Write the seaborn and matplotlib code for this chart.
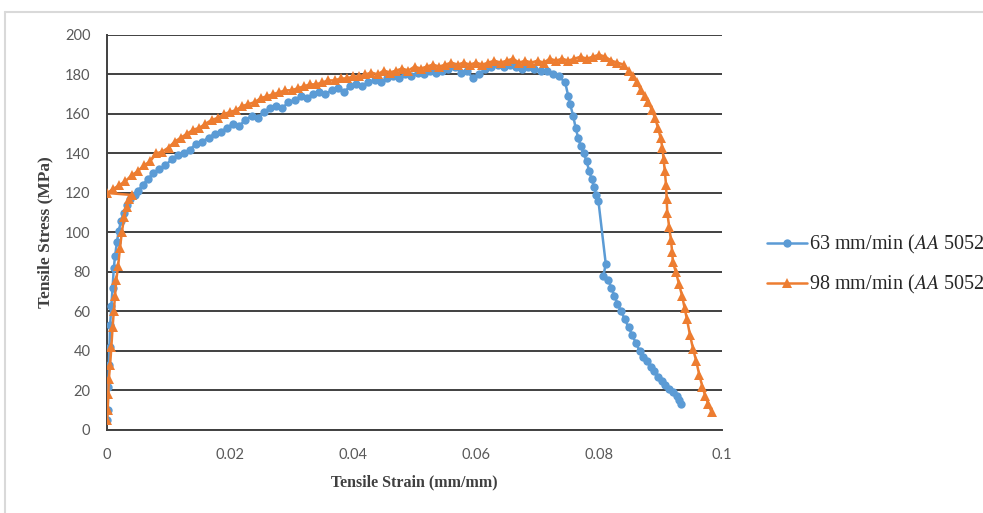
import matplotlib
matplotlib.use("Agg")
import matplotlib.pyplot as plt
import seaborn as sns
import pandas as pd
from matplotlib.lines import Line2D

# 63 mm/min (AA 5052) - strain, stress
strain_63 = [0.0000, 0.0001, 0.0002, 0.0003, 0.0004, 0.0005, 0.0007, 0.0009, 0.0011, 0.0013,
             0.0016, 0.0019, 0.0023, 0.0027, 0.0032, 0.0038, 0.0045, 0.0050, 0.0058, 0.0066,
             0.0075, 0.0085, 0.0095, 0.0105, 0.0115, 0.0125, 0.0135, 0.0145, 0.0155, 0.0165,
             0.0175, 0.0185, 0.0195, 0.0205, 0.0215, 0.0225, 0.0235, 0.0245, 0.0255, 0.0265,
             0.0275, 0.0285, 0.0295, 0.0305, 0.0315, 0.0325, 0.0335, 0.0345, 0.0355, 0.0365,
             0.0375, 0.0385, 0.0395, 0.0405, 0.0415, 0.0425, 0.0435, 0.0445, 0.0455, 0.0465,
             0.0475, 0.0485, 0.0495, 0.0505, 0.0515, 0.0525, 0.0535, 0.0545, 0.0555, 0.0565,
             0.0575, 0.0585, 0.0595, 0.0605, 0.0615, 0.0625, 0.0635, 0.0645, 0.0655, 0.0665,
             0.0675, 0.0685, 0.0695, 0.0705, 0.0715, 0.0725, 0.0735, 0.0745, 0.0750, 0.0753,
             0.0758, 0.0762, 0.0766, 0.0770, 0.0775, 0.0780, 0.0784, 0.0788, 0.0792, 0.0795,
             0.0799, 0.0811, 0.0807, 0.0815, 0.0820, 0.0825, 0.0830, 0.0836, 0.0842, 0.0848,
             0.0854, 0.0860, 0.0866, 0.0872, 0.0878, 0.0884, 0.0890, 0.0896, 0.0902, 0.0908,
             0.0914, 0.0920, 0.0926, 0.0930, 0.0934]
stress_63 = [5, 10, 22, 33, 42, 53, 63, 72, 82, 88,
             95, 101, 106, 110, 114, 117, 119, 121, 124, 127,
             130, 132, 134, 137, 139, 140, 142, 145, 146, 148,
             150, 151, 153, 155, 154, 157, 159, 158, 161, 163,
             164, 163, 166, 167, 169, 168, 170, 171, 170, 172,
             173, 171, 174, 175, 174, 176, 177, 176, 178, 179,
             178, 180, 179, 181, 180, 182, 181, 182, 183, 184,
             181, 182, 178, 180, 183, 184, 185, 184, 185, 184,
             183, 184, 183, 182, 182, 180, 179, 176, 169, 165,
             159, 153, 148, 144, 140, 136, 131, 127, 123, 119,
             116, 84, 78, 76, 72, 68, 64, 60, 56, 52,
             48, 44, 40, 37, 35, 32, 30, 27, 25, 23,
             21, 19, 17, 15, 13]

# 98 mm/min (AA 5052) - strain, stress
strain_98 = [0.0000, 0.0001, 0.0002, 0.0003, 0.0005, 0.0007, 0.0009, 0.0011, 0.0013, 0.0015,
             0.0018, 0.0021, 0.0024, 0.0028, 0.0032, 0.0036, 0.0040, 0.0000, 0.0010, 0.0020,
             0.0030, 0.0040, 0.0050, 0.0060, 0.0070, 0.0080, 0.0090, 0.0100, 0.0110, 0.0120,
             0.0130, 0.0140, 0.0150, 0.0160, 0.0170, 0.0180, 0.0190, 0.0200, 0.0210, 0.0220,
             0.0230, 0.0240, 0.0250, 0.0260, 0.0270, 0.0280, 0.0290, 0.0300, 0.0310, 0.0320,
             0.0330, 0.0340, 0.0350, 0.0360, 0.0370, 0.0380, 0.0390, 0.0400, 0.0410, 0.0420,
             0.0430, 0.0440, 0.0450, 0.0460, 0.0470, 0.0480, 0.0490, 0.0500, 0.0510, 0.0520,
             0.0530, 0.0540, 0.0550, 0.0560, 0.0570, 0.0580, 0.0590, 0.0600, 0.0610, 0.0620,
             0.0630, 0.0640, 0.0650, 0.0660, 0.0670, 0.0680, 0.0690, 0.0700, 0.0710, 0.0720,
             0.0730, 0.0740, 0.0750, 0.0760, 0.0770, 0.0780, 0.0790, 0.0800, 0.0810, 0.0820,
             0.0830, 0.0840, 0.0848, 0.0855, 0.0862, 0.0868, 0.0874, 0.0880, 0.0886, 0.0891,
             0.0896, 0.0900, 0.0903, 0.0905, 0.0907, 0.0909, 0.0910, 0.0911, 0.0914, 0.0917,
             0.0919, 0.0920, 0.0925, 0.0930, 0.0935, 0.0939, 0.0943, 0.0948, 0.0953, 0.0958,
             0.0963, 0.0968, 0.0973, 0.0978, 0.0983]
stress_98 = [5, 10, 18, 26, 33, 42, 52, 60, 68, 76,
             83, 92, 100, 108, 113, 117, 119, 120, 122, 124,
             126, 129, 131, 134, 136, 140, 141, 143, 146, 148,
             150, 152, 153, 155, 157, 158, 160, 161, 162, 164,
             165, 166, 168, 169, 170, 171, 172, 172, 173, 174,
             175, 175, 176, 177, 177, 178, 178, 179, 179, 180,
             181, 180, 182, 181, 182, 183, 182, 184, 183, 184,
             185, 184, 185, 186, 185, 186, 185, 186, 185, 186,
             187, 186, 187, 188, 186, 187, 186, 187, 186, 188,
             187, 188, 187, 188, 189, 188, 189, 190, 189, 187,
             186, 185, 182, 179, 176, 172, 169, 166, 162, 158,
             153, 148, 143, 137, 131, 124, 117, 110, 103, 96,
             90, 85, 80, 74, 68, 62, 56, 48, 41, 35,
             28, 22, 17, 13, 9]

labels = ["63 mm/min ($\\mathit{AA}$ 5052)", "98 mm/min ($\\mathit{AA}$ 5052)"]
x_ticks = [0, 0.02, 0.04, 0.06, 0.08, 0.1]
x_tick_labels = ["0", "0.02", "0.04", "0.06", "0.08", "0.1"]
y_ticks = list(range(0, 201, 20))

sns.set_style("white")
plt.rcParams["mathtext.fontset"] = "stix"

df63 = pd.DataFrame({"strain": strain_63, "stress": stress_63})
df98 = pd.DataFrame({"strain": strain_98, "stress": stress_98})

fig = plt.figure(figsize=(9.83, 5.13), dpi=100)
ax = fig.add_axes([0.1089, 0.1618, 0.6256, 0.77])

sns.lineplot(data=df63, x="strain", y="stress", sort=False, estimator=None, ax=ax,
             color="#5B9BD5", lw=1.8, marker="o", markersize=6, markeredgewidth=0,
             label=labels[0], zorder=3)
sns.lineplot(data=df98, x="strain", y="stress", sort=False, estimator=None, ax=ax,
             color="#ED7D31", lw=1.8, marker="^", markersize=6.5, markeredgewidth=0,
             label=labels[1], zorder=4)

ax.set_xlim(0, 0.1)
ax.set_ylim(0, 200)
ax.set_xticks(x_ticks)
ax.set_xticklabels(x_tick_labels)
ax.set_yticks(y_ticks)
ax.yaxis.grid(True, color="#404040", lw=1.4)
ax.xaxis.grid(False)
ax.set_axisbelow(True)

for side in ["top", "right"]:
    ax.spines[side].set_visible(False)
for side in ["left", "bottom"]:
    ax.spines[side].set_color("#404040")
    ax.spines[side].set_linewidth(1.4)

for lab in ax.get_xticklabels() + ax.get_yticklabels():
    lab.set_fontfamily("Lato")
    lab.set_fontsize(10.5)
    lab.set_color("#595959")
ax.tick_params(axis="x", direction="in", length=4, width=1.2, color="#404040", pad=13)
ax.tick_params(axis="y", length=0, pad=12)

ax.set_xlabel("Tensile Strain (mm/mm)", family="Liberation Serif", fontweight="bold",
              fontsize=11.5, color="#404040", labelpad=9)
ax.set_ylabel("Tensile Stress (MPa)", family="Liberation Serif", fontweight="bold",
              fontsize=12.5, color="#404040", labelpad=8)

ax.legend(loc="center left", bbox_to_anchor=(0.772, 0.484), bbox_transform=fig.transFigure,
          frameon=False, prop={"family": "Liberation Serif", "size": 14.5},
          handlelength=2.0, handletextpad=0.1, labelspacing=0.85, borderaxespad=0)

# screenshot frame
fig.add_artist(Line2D([0.005, 1.0], [0.977, 0.977], transform=fig.transFigure,
                      color="#d9d9d9", lw=1.5))
fig.add_artist(Line2D([0.005, 0.005], [0.0, 0.977], transform=fig.transFigure,
                      color="#d9d9d9", lw=1.5))

fig.savefig("out.png", dpi=100)
